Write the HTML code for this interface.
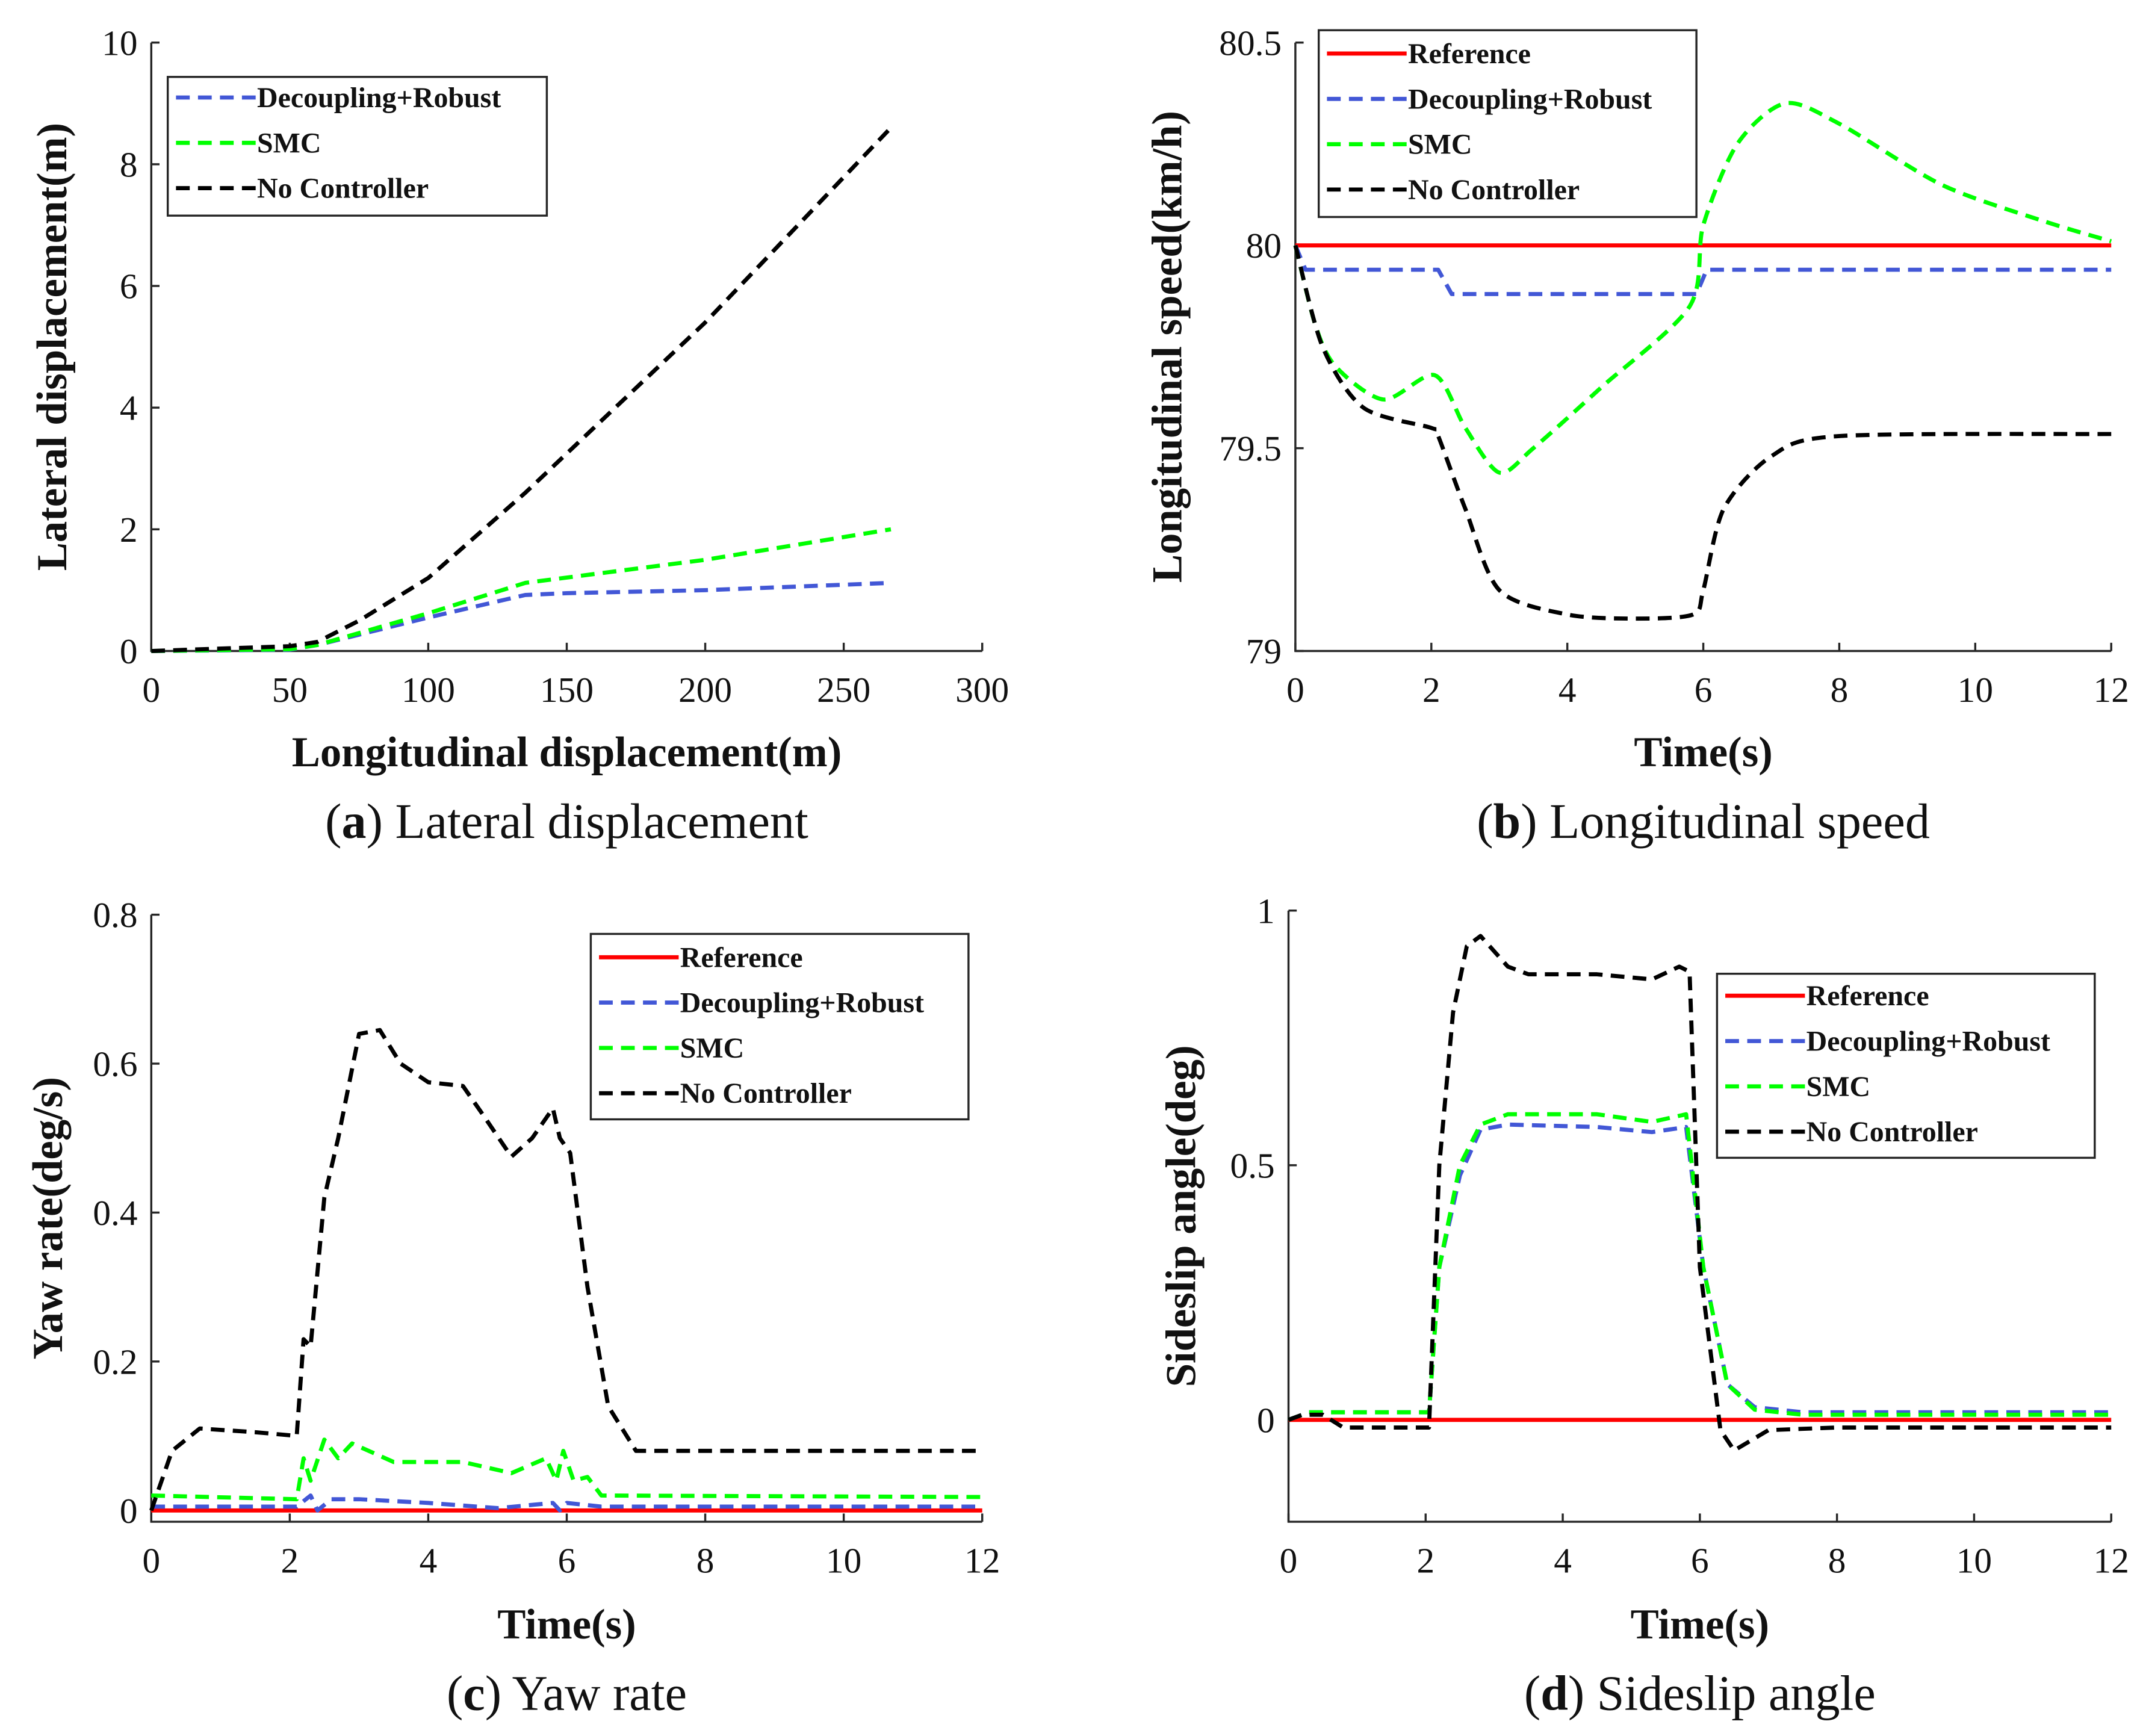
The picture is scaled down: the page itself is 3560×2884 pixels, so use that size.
<!DOCTYPE html>
<html><head><meta charset="utf-8"><style>
html,body{margin:0;padding:0;background:#fff;}
svg{display:block;}
svg text{font-family:"Liberation Serif",serif;fill:#111;}
</style></head><body>
<svg id="fig" width="3560" height="2884" viewBox="0 0 1560 1264" xmlns="http://www.w3.org/2000/svg"></svg>
<script>
// ---- data: panel a ----
const aDecX=[0,50,60,100,135,150,200,267];
const aDecY=[0,0.02,0.1,0.55,0.92,0.95,1.0,1.12];
const aSmcX=[0,50,60,100,135,200,267];
const aSmcY=[0,0.03,0.1,0.62,1.12,1.5,2.0];
const aNcX=[0,50,60,75,100,135,200,267];
const aNcY=[0,0.08,0.15,0.5,1.2,2.6,5.4,8.6];
// ---- panel b ----
const bDecT=[0,0.15,2.1,2.3,5.9,6.05,12];
const bDecV=[80,79.94,79.94,79.88,79.88,79.94,79.94];
const bSmcT=[0,0.3,0.6,1.3,2.05,2.5,3.0,3.5,4.5,5.8,6.0,6.5,7.2,8,9.5,11,12];
const bSmcV=[80,79.8,79.7,79.62,79.68,79.55,79.44,79.5,79.65,79.85,80.05,80.25,80.35,80.3,80.15,80.06,80.01];
const bNcT=[0,0.4,1,2,2.1,2.5,3,4,5,5.85,6.0,6.3,7,8,12];
const bNcV=[80,79.75,79.6,79.55,79.53,79.35,79.15,79.09,79.08,79.09,79.15,79.35,79.48,79.53,79.535];
// ---- panel c ----
const cNcT=[0,0.3,0.7,1.5,2.1,2.2,2.3,2.5,2.7,3,3.3,3.6,4,4.5,4.8,5.2,5.5,5.8,5.9,6.05,6.3,6.6,7,8,12];
const cNcV=[0,0.08,0.11,0.105,0.1,0.23,0.22,0.42,0.5,0.64,0.645,0.6,0.575,0.57,0.53,0.475,0.5,0.54,0.5,0.48,0.3,0.14,0.08,0.08,0.08];
const cSmcT=[0,2.1,2.2,2.3,2.5,2.7,2.9,3.5,4.5,5.2,5.7,5.85,5.95,6.1,6.3,6.5,12];
const cSmcV=[0.02,0.015,0.07,0.04,0.095,0.07,0.09,0.065,0.065,0.05,0.07,0.04,0.08,0.04,0.045,0.02,0.018];
const cDecT=[0,2.1,2.3,2.4,2.6,3,4,5,5.8,5.9,6,6.5,12];
const cDecV=[0.005,0.005,0.02,0,0.015,0.015,0.01,0.003,0.01,0,0.01,0.005,0.005];
// ---- panel d ----
const dNcT=[0,0.2,0.5,0.8,2.05,2.2,2.4,2.6,2.8,3.2,3.5,4.5,5.3,5.7,5.85,6.0,6.3,6.5,7,8,12];
const dNcV=[0,0.01,0.01,-0.015,-0.015,0.5,0.8,0.93,0.95,0.89,0.875,0.875,0.865,0.89,0.88,0.3,-0.02,-0.06,-0.02,-0.015,-0.015];
const dSmcT=[0,0.3,2.05,2.2,2.5,2.8,3.2,4.5,5.3,5.8,6.05,6.4,6.8,7.5,12];
const dSmcV=[0,0.015,0.015,0.3,0.5,0.58,0.6,0.6,0.585,0.6,0.3,0.07,0.02,0.01,0.01];
const dDecT=[0,0.3,2.05,2.2,2.5,2.8,3.2,4.5,5.3,5.8,6.05,6.4,6.8,7.5,12];
const dDecV=[0,0.015,0.015,0.3,0.48,0.57,0.58,0.575,0.565,0.575,0.3,0.07,0.025,0.015,0.015];

const NS="http://www.w3.org/2000/svg";
const svg=document.getElementById('fig');
const FF='"Liberation Serif", serif';
function el(tag,attrs,parent,txt){const e=document.createElementNS(NS,tag);for(const k in attrs)e.setAttribute(k,attrs[k]);if(tag==='text')e.setAttribute('font-family',FF);if(txt!==undefined)e.textContent=txt;(parent||svg).appendChild(e);return e;}
const COL={ref:'#ff0000',dec:'#4257d6',smc:'#00ff00',nc:'#000000'};

function pathFor(pts,smooth){
  if(!smooth) return pts.map((p,i)=>(i?'L':'M')+p[0].toFixed(1)+','+p[1].toFixed(1)).join(' ');
  let d='M'+pts[0][0].toFixed(1)+','+pts[0][1].toFixed(1);
  for(let i=0;i<pts.length-1;i++){
    const p0=pts[i-1]||pts[i],p1=pts[i],p2=pts[i+1],p3=pts[i+2]||p2;
    const t=0.14;
    const c1=[p1[0]+(p2[0]-p0[0])*t,p1[1]+(p2[1]-p0[1])*t];
    const c2=[p2[0]-(p3[0]-p1[0])*t,p2[1]-(p3[1]-p1[1])*t];
    d+=` C${c1[0].toFixed(1)},${c1[1].toFixed(1)} ${c2[0].toFixed(1)},${c2[1].toFixed(1)} ${p2[0].toFixed(1)},${p2[1].toFixed(1)}`;
  }
  return d;
}

function panel(cfg){
  const g=el('g',{});
  
  
  const sx=v=>cfg.x0+(v-cfg.xmin)/(cfg.xmax-cfg.xmin)*(cfg.x1-cfg.x0);
  const sy=v=>cfg.y0-(v-cfg.ymin)/(cfg.ymax-cfg.ymin)*(cfg.y0-cfg.y1);
  const ax=el('path',{d:`M${cfg.x0},${cfg.y1} L${cfg.x0},${cfg.y0} L${cfg.x1},${cfg.y0}`,fill:'none',stroke:'#262626','stroke-width':1.5},g);
  
  
  cfg.xt.forEach(v=>{const X=sx(v);el('line',{x1:X,x2:X,y1:cfg.y0,y2:cfg.y0-6,stroke:'#262626','stroke-width':1.5},g);
    const t=el('text',{x:X,y:cfg.y0+37,'text-anchor':'middle','font-size':26},g,v);
    
    });
  cfg.yt.forEach((v,i)=>{const Y=sy(v);el('line',{x1:cfg.x0,x2:cfg.x0+6,y1:Y,y2:Y,stroke:'#262626','stroke-width':1.5},g);
    const t=el('text',{x:cfg.x0-10,y:Y+9,'text-anchor':'end','font-size':26},g,cfg.ytl[i]);
    
    });
  cfg.series.forEach(s=>{
    const pts=s.x.map((v,i)=>[sx(v),sy(s.y[i])]);
    const p=el('path',{d:pathFor(pts,cfg.smooth&&s.c!=='ref'&&s.c!=='dec'),fill:'none',stroke:COL[s.c],'stroke-width':3,'stroke-dasharray':s.c==='ref'?'none':'10,6','stroke-linejoin':'round'},g);
    
    
  });
  const xl=el('text',{x:(cfg.x0+cfg.x1)/2,y:cfg.xly,'text-anchor':'middle','font-size':31,'font-weight':'bold'},g,cfg.xlabel);
  
  
  const yl=el('text',{x:0,y:0,'text-anchor':'middle','font-size':31,'font-weight':'bold',transform:`translate(${cfg.ylx},${(cfg.y0+cfg.y1)/2}) rotate(-90)`},g,cfg.ylabel);
  
  
  const cap=el('text',{x:(cfg.x0+cfg.x1)/2,y:cfg.capy,'text-anchor':'middle','font-size':36},g);
  
  
  el('tspan',{},cap,'(');el('tspan',{'font-weight':'bold'},cap,cfg.letter);el('tspan',{},cap,') '+cfg.caption);
  const L=cfg.leg;
  const lg=el('g',{},g);
  
  
  el('rect',{x:L.x,y:L.y,width:L.w,height:L.h,fill:'#fff',stroke:'#262626','stroke-width':1.5},lg);
  L.items.forEach((it,i)=>{
    const Y=L.first+i*L.step;
    const ent=el('g',{},lg);
    
    
    el('line',{x1:L.x+6,x2:L.x+64,y1:Y,y2:Y,stroke:COL[it.c],'stroke-width':3,'stroke-dasharray':it.c==='ref'?'none':'10,6'},ent);
    el('text',{x:L.x+65,y:Y+7,'font-size':21,'font-weight':'bold'},ent,it.t);
  });
}
const itemsDSN=[{c:'dec',t:'Decoupling+Robust'},{c:'smc',t:'SMC'},{c:'nc',t:'No Controller'}];
const items4=[{c:'ref',t:'Reference'}].concat(itemsDSN);

panel({name:'panel-a-lateral-displacement',x0:110,x1:715,y0:474,y1:31,xmin:0,xmax:300,ymin:0,ymax:10,smooth:false,
 xt:[0,50,100,150,200,250,300],yt:[0,2,4,6,8,10],ytl:['0','2','4','6','8','10'],
 series:[{c:'dec',x:aDecX,y:aDecY},{c:'smc',x:aSmcX,y:aSmcY},{c:'nc',x:aNcX,y:aNcY}],
 xlabel:'Longitudinal displacement(m)',xly:558,ylabel:'Lateral displacement(m)',ylx:48,capy:610,letter:'a',caption:'Lateral displacement',
 leg:{x:122,y:56,w:276,h:101,first:71,step:33,items:itemsDSN}});

panel({name:'panel-b-longitudinal-speed',x0:943,x1:1537,y0:474,y1:31,xmin:0,xmax:12,ymin:79,ymax:80.5,smooth:true,
 xt:[0,2,4,6,8,10,12],yt:[79,79.5,80,80.5],ytl:['79','79.5','80','80.5'],
 series:[{c:'ref',x:[0,12],y:[80,80]},{c:'dec',x:bDecT,y:bDecV},{c:'smc',x:bSmcT,y:bSmcV},{c:'nc',x:bNcT,y:bNcV}],
 xlabel:'Time(s)',xly:558,ylabel:'Longitudinal speed(km/h)',ylx:860,capy:610,letter:'b',caption:'Longitudinal speed',
 leg:{x:960,y:22,w:275,h:136,first:39,step:33,items:items4}});

panel({name:'panel-c-yaw-rate',x0:110,x1:715,y0:1108,y1:666,xmin:0,xmax:12,ymin:-0.0152,ymax:0.8,smooth:false,
 xt:[0,2,4,6,8,10,12],yt:[0,0.2,0.4,0.6,0.8],ytl:['0','0.2','0.4','0.6','0.8'],
 series:[{c:'ref',x:[0,12],y:[0,0]},{c:'dec',x:cDecT,y:cDecV},{c:'smc',x:cSmcT,y:cSmcV},{c:'nc',x:cNcT,y:cNcV}],
 xlabel:'Time(s)',xly:1193,ylabel:'Yaw rate(deg/s)',ylx:45,capy:1245,letter:'c',caption:'Yaw rate',
 leg:{x:430,y:680,w:275,h:135,first:697,step:33,items:items4}});

panel({name:'panel-d-sideslip-angle',x0:938,x1:1537,y0:1108,y1:663,xmin:0,xmax:12,ymin:-0.2,ymax:1,smooth:false,
 xt:[0,2,4,6,8,10,12],yt:[0,0.5,1],ytl:['0','0.5','1'],
 series:[{c:'ref',x:[0,12],y:[0,0]},{c:'dec',x:dDecT,y:dDecV},{c:'smc',x:dSmcT,y:dSmcV},{c:'nc',x:dNcT,y:dNcV}],
 xlabel:'Time(s)',xly:1193,ylabel:'Sideslip angle(deg)',ylx:870,capy:1245,letter:'d',caption:'Sideslip angle',
 leg:{x:1250,y:709,w:275,h:134,first:725,step:33,items:items4}});
</script>
</body></html>
